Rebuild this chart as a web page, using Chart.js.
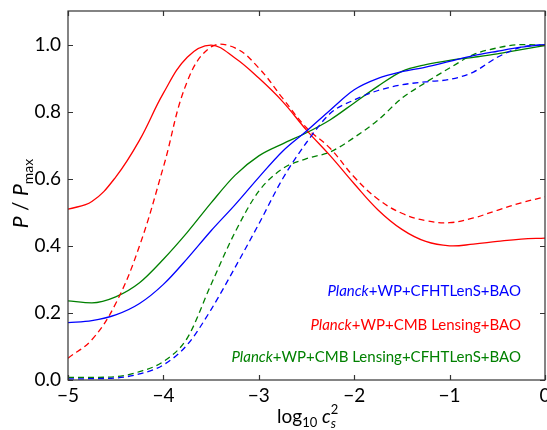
<!DOCTYPE html>
<html>
<head>
<meta charset="utf-8">
<script src="https://cdn.jsdelivr.net/npm/chart.js@4.4.1/dist/chart.umd.min.js"></script>
<style>
  html, body { margin: 0; padding: 0; background: #fff; }
</style>
</head>
<body>
<canvas id="psChart" width="547" height="430"></canvas>
<script>
// log10 c_s^2 sample points, shared by every curve
const xs = [-5, -4.75, -4.5, -4.25, -4, -3.75, -3.5, -3.25, -3, -2.75, -2.5,
            -2.25, -2, -1.75, -1.5, -1.25, -1, -0.75, -0.5, -0.25, 0];

// P / P_max
const blueSolid  = [0.171, 0.177, 0.194, 0.228, 0.285, 0.362, 0.445, 0.522, 0.604, 0.682, 0.742,
                    0.805, 0.865, 0.899, 0.919, 0.933, 0.95, 0.967, 0.98, 0.992, 1.0];
const blueDashed = [0.003, 0.004, 0.006, 0.018, 0.045, 0.105, 0.21, 0.335, 0.465, 0.60, 0.708,
                    0.795, 0.835, 0.863, 0.88, 0.889, 0.896, 0.918, 0.962, 0.992, 1.0];
const redSolid   = [0.509, 0.532, 0.605, 0.715, 0.855, 0.962, 0.998, 0.96, 0.9, 0.83, 0.745,
                    0.668, 0.585, 0.507, 0.449, 0.413, 0.40, 0.405, 0.413, 0.42, 0.423];
const redDashed  = [0.065, 0.12, 0.228, 0.40, 0.635, 0.89, 0.993, 0.99, 0.93, 0.84, 0.752,
                    0.69, 0.605, 0.539, 0.497, 0.475, 0.469, 0.483, 0.506, 0.528, 0.546];
const greenSolid = [0.236, 0.23, 0.248, 0.29, 0.36, 0.44, 0.528, 0.61, 0.668, 0.704, 0.737,
                    0.776, 0.826, 0.876, 0.92, 0.94, 0.953, 0.962, 0.972, 0.985, 0.997];
const greenDashed= [0.008, 0.008, 0.01, 0.025, 0.055, 0.125, 0.285, 0.44, 0.563, 0.63, 0.66,
                    0.68, 0.723, 0.775, 0.84, 0.887, 0.93, 0.97, 0.99, 1.0, 0.998];

const seriesLabels = ['Planck+WP+CFHTLenS+BAO',
                      'Planck+WP+CMB Lensing+BAO',
                      'Planck+WP+CMB Lensing+CFHTLenS+BAO'];
const seriesColors = ['#0000ff', '#ff0000', '#008000'];

const xTicks = [-5, -4, -3, -2, -1, 0];
const xTickLabels = ['\u22125', '\u22124', '\u22123', '\u22122', '\u22121', '0'];
const yTicks = [0, 0.2, 0.4, 0.6, 0.8, 1.0];
const yTickLabels = ['0.0', '0.2', '0.4', '0.6', '0.8', '1.0'];

const FONT = 'Lato';

function pts(ys) {
    return xs.map((x, i) => ({ x: x, y: ys[i] }));
}

// rounded peaks on the red curves need the plain bezier spline
function line(label, ys, color, dashed, smooth) {
    const ds = {
        label: label,
        data: pts(ys),
        borderColor: color,
        borderWidth: 1.3,
        borderDash: dashed ? [6, 4] : [],
        pointRadius: 0,
        fill: false
    };
    if (smooth) ds.tension = 0.4;
    else ds.cubicInterpolationMode = 'monotone';
    return ds;
}

// draws a run of text pieces (italic / sub / sup) starting at x
function drawPieces(ctx, pieces, x, y, align) {
    let total = 0;
    pieces.forEach(p => {
        ctx.font = (p.italic ? 'italic ' : '') + p.size + 'px ' + FONT;
        p.w = ctx.measureText(p.text).width;
        if (!p.stay) total += p.w;
    });
    let cx = x;
    if (align === 'right') cx = x - total;
    if (align === 'center') cx = x - total / 2;
    pieces.forEach(p => {
        ctx.font = (p.italic ? 'italic ' : '') + p.size + 'px ' + FONT;
        ctx.fillText(p.text, cx, y + (p.dy || 0));
        if (!p.stay) cx += p.w;
    });
}

const framePlugin = {
    id: 'frame',
    afterDraw(chart) {
        const ctx = chart.ctx;
        const a = chart.chartArea;
        const sx = chart.scales.x, sy = chart.scales.y;
        ctx.save();
        ctx.strokeStyle = '#333';
        ctx.lineWidth = 1.2;
        ctx.strokeRect(a.left, a.top, a.right - a.left, a.bottom - a.top);
        ctx.beginPath();
        xTicks.forEach(v => {
            const px = Math.round(sx.getPixelForValue(v)) + 0.5;
            ctx.moveTo(px, a.bottom); ctx.lineTo(px, a.bottom - 5);
            ctx.moveTo(px, a.top); ctx.lineTo(px, a.top + 5);
        });
        yTicks.forEach(v => {
            const py = Math.round(sy.getPixelForValue(v)) + 0.5;
            ctx.moveTo(a.left, py); ctx.lineTo(a.left + 5, py);
            ctx.moveTo(a.right, py); ctx.lineTo(a.right - 5, py);
        });
        ctx.stroke();

        // legend text inside the axes
        ctx.textBaseline = 'alphabetic';
        const rows = [296, 330, 362];
        seriesLabels.forEach((lab, i) => {
            ctx.fillStyle = seriesColors[i];
            drawPieces(ctx, [
                { text: 'Planck', italic: true, size: 15 },
                { text: lab.slice(6), size: 15 }
            ], 521, rows[i], 'right');
        });

        // axis titles
        ctx.fillStyle = '#000';
        drawPieces(ctx, [
            { text: 'log', size: 19 },
            { text: '10', size: 13, dy: 4 },
            { text: ' ', size: 19 },
            { text: 'c', italic: true, size: 19 },
            { text: '2', size: 13, dy: -9, stay: true },
            { text: 's', italic: true, size: 13, dy: 5 }
        ], (a.left + a.right) / 2, 423, 'center');

        ctx.translate(28, (a.top + a.bottom) / 2 - 2);
        ctx.rotate(-Math.PI / 2);
        drawPieces(ctx, [
            { text: 'P', italic: true, size: 21 },
            { text: ' / ', size: 21 },
            { text: 'P', italic: true, size: 21 },
            { text: 'max', size: 14, dy: 5 }
        ], 0, 0, 'center');
        ctx.restore();
    }
};

const ctx = document.getElementById('psChart').getContext('2d');
new Chart(ctx, {
    type: 'line',
    data: {
        datasets: [
            line(seriesLabels[0], blueSolid, seriesColors[0], false, false),
            line(seriesLabels[0] + ' (dashed)', blueDashed, seriesColors[0], true, false),
            line(seriesLabels[1], redSolid, seriesColors[1], false, true),
            line(seriesLabels[1] + ' (dashed)', redDashed, seriesColors[1], true, true),
            line(seriesLabels[2], greenSolid, seriesColors[2], false, false),
            line(seriesLabels[2] + ' (dashed)', greenDashed, seriesColors[2], true, false)
        ]
    },
    options: {
        responsive: false,
        animation: false,
        layout: { padding: { left: 0, right: 2, top: 11, bottom: 0 } },
        plugins: {
            legend: { display: false },
            tooltip: { enabled: false }
        },
        scales: {
            x: {
                type: 'linear',
                min: -5,
                max: 0,
                afterBuildTicks: s => { s.ticks = xTicks.map(v => ({ value: v })); },
                afterFit: s => { s.height = 50; s.paddingLeft = 0; s.paddingRight = 0; },
                grid: { display: false, drawTicks: false },
                border: { display: false },
                ticks: {
                    callback: (v, i) => xTickLabels[i],
                    font: { family: FONT, size: 19 },
                    color: '#000',
                    padding: 4,
                    maxRotation: 0,
                    autoSkip: false
                }
            },
            y: {
                type: 'linear',
                min: 0,
                max: 1.1,
                afterBuildTicks: s => { s.ticks = yTicks.map(v => ({ value: v })); },
                afterFit: s => { s.width = 68; s.paddingTop = 0; s.paddingBottom = 0; },
                grid: { display: false, drawTicks: false },
                border: { display: false },
                ticks: {
                    callback: (v, i) => yTickLabels[i],
                    font: { family: FONT, size: 19 },
                    color: '#000',
                    padding: 7,
                    autoSkip: false
                }
            }
        }
    },
    plugins: [framePlugin]
});
</script>
</body>
</html>
